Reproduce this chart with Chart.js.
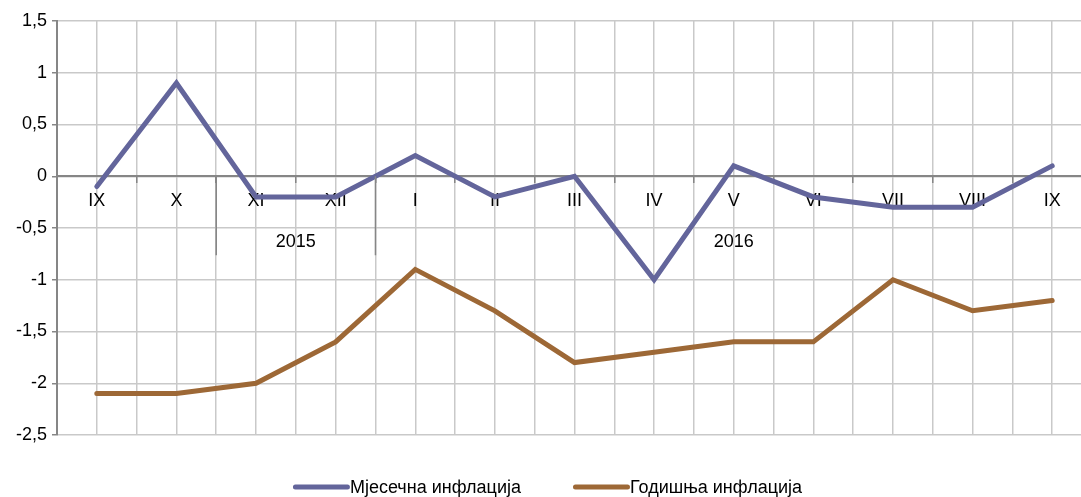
<!DOCTYPE html>
<html>
<head>
<meta charset="utf-8">
<script src="https://cdn.jsdelivr.net/npm/chart.js@4.4.1/dist/chart.umd.min.js"></script>
<style>
  html, body { margin: 0; padding: 0; background: #fff; overflow: hidden; }
  #wrap { width: 1095px; height: 497px; }
</style>
</head>
<body>
<div id="wrap"><canvas id="chart" width="1095" height="497"></canvas></div>
<script>
// data
const months = ["IX", "X", "XI", "XII", "I", "II", "III", "IV", "V", "VI", "VII", "VIII", "IX"];
const monthly = [-0.1, 0.9, -0.2, -0.2, 0.2, -0.2, 0, -1.0, 0.1, -0.2, -0.3, -0.3, 0.1];
const annual = [-2.1, -2.1, -2.0, -1.6, -0.9, -1.3, -1.8, -1.7, -1.6, -1.6, -1.0, -1.3, -1.2];
const yearNames = ["", "2015", "2016"];
const yearStarts = [0, 2, 4]; // first month index of each year group
const seriesNames = ["Мјесечна инфлација", "Годишња инфлација"];

const FONT = "'Liberation Sans', Arial, sans-serif";
const FSIZE = 18;
const AXIS = "#868686";
const GRID = "#c9c9c9";

// year row under the month labels + separators
const yearGroups = {
  id: "yearGroups",
  afterDraw(chart) {
    const xs = chart.scales.x, ys = chart.scales.y;
    const ctx = chart.ctx;
    const y0 = ys.getPixelForValue(0);
    ctx.save();
    ctx.strokeStyle = AXIS;
    ctx.lineWidth = 1.5;
    ctx.fillStyle = "#000";
    ctx.font = FSIZE + "px " + FONT;
    ctx.textAlign = "center";
    ctx.textBaseline = "middle";
    yearStarts.forEach((s, i) => {
      if (i > 0) {
        let bx = (xs.getPixelForValue(s - 1) + xs.getPixelForValue(s)) / 2;
        ctx.beginPath();
        ctx.moveTo(bx, y0);
        ctx.lineTo(bx, y0 + 79);
        ctx.stroke();
      }
      let end = i < yearStarts.length - 1 ? yearStarts[i + 1] - 1 : months.length - 1;
      let cx = (xs.getPixelForValue(s) + xs.getPixelForValue(end)) / 2;
      if (yearNames[i]) ctx.fillText(yearNames[i], cx, y0 + 66);
    });
    ctx.restore();
  },
};

// legend drawn by hand so the spacing matches
const lineLegend = {
  id: "lineLegend",
  afterDraw(chart) {
    const ctx = chart.ctx;
    ctx.save();
    ctx.font = FSIZE + "px " + FONT;
    ctx.textBaseline = "middle";
    ctx.textAlign = "left";
    const sample = 57, gap = 0, itemGap = 52, cy = 487;
    let widths = chart.data.datasets.map((d) => sample + gap + ctx.measureText(d.label).width);
    let total = widths.reduce((a, b) => a + b, 0) + itemGap * (widths.length - 1);
    let x = chart.width / 2 - total / 2;
    chart.data.datasets.forEach((d, i) => {
      ctx.strokeStyle = d.borderColor;
      ctx.lineWidth = 5;
      ctx.lineCap = "round";
      ctx.beginPath();
      ctx.moveTo(x + 2.5, cy);
      ctx.lineTo(x + sample - 2.5, cy);
      ctx.stroke();
      ctx.fillStyle = "#000";
      ctx.fillText(d.label, x + sample + gap, cy + 1);
      x += widths[i] + itemGap;
    });
    ctx.restore();
  },
};

new Chart(document.getElementById("chart"), {
  type: "line",
  data: {
    labels: months,
    datasets: [
      {
        label: seriesNames[0],
        data: monthly,
        borderColor: "#63659b",
        borderWidth: 5,
        pointRadius: 0,
        borderCapStyle: "round",
        borderJoinStyle: "miter",
        tension: 0,
      },
      {
        label: seriesNames[1],
        data: annual,
        borderColor: "#9d6836",
        borderWidth: 5,
        pointRadius: 0,
        borderCapStyle: "round",
        borderJoinStyle: "miter",
        tension: 0,
      },
    ],
  },
  options: {
    responsive: false,
    animation: false,
    devicePixelRatio: 1,
    layout: { padding: { top: 21, bottom: 62, right: 3, left: 0 } },
    plugins: { legend: { display: false }, tooltip: { enabled: false } },
    scales: {
      y: {
        min: -2.5,
        max: 1.5,
        afterFit: (s) => { s.width = 57; },
        ticks: {
          stepSize: 0.5,
          padding: 5,
          color: "#000",
          font: { family: FONT, size: FSIZE },
          callback: (v) => String(v).replace(".", ","),
        },
        grid: { color: GRID, lineWidth: 1.5, tickColor: AXIS, tickLength: 5 },
        border: { color: AXIS, width: 2 },
      },
      x: {
        position: { y: 0 },
        offset: true,
        ticks: {
          autoSkip: false,
          maxRotation: 0,
          padding: 8,
          color: "#000",
          font: { family: FONT, size: FSIZE },
        },
        grid: { offset: true, color: GRID, lineWidth: 1.5, tickColor: AXIS, tickLength: 6 },
        border: { color: AXIS, width: 2 },
      },
      x2: {
        type: "category",
        position: "bottom",
        offset: true,
        afterFit: (s) => { s.height = 0; },
        ticks: { display: false },
        grid: { offset: false, color: GRID, lineWidth: 1.5, drawTicks: false },
        border: { display: false },
      },
    },
  },
  plugins: [yearGroups, lineLegend],
});
</script>
</body>
</html>
